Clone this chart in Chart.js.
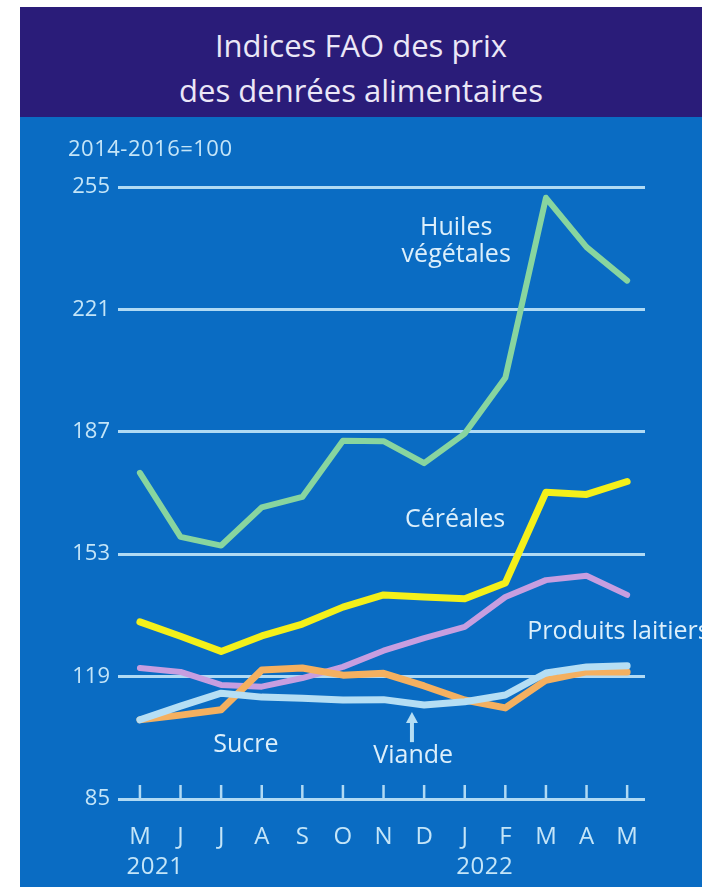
<!DOCTYPE html>
<html>
<head>
<meta charset="utf-8">
<script src="https://cdn.jsdelivr.net/npm/chart.js@4.4.1/dist/chart.umd.min.js"></script>
<style>
  html, body { margin: 0; padding: 0; background: #ffffff; }
  #wrap { position: absolute; left: 20px; top: 7px; width: 682px; }
  #head {
    height: 110px; box-sizing: border-box; padding-top: 16px;
    background: #2a1c79; color: #ebe7f7;
    font-family: "Open Sans", sans-serif; font-size: 31px; line-height: 45px;
    text-align: center;
  }
  #body { height: 770px; background: #0a6cc3; }
  canvas { display: block; }
</style>
</head>
<body>
<div id="wrap">
  <div id="head">Indices FAO des prix<br>des denrées alimentaires</div>
  <div id="body"><canvas id="chart" width="682" height="770"></canvas></div>
</div>
<script>
// monthly index values, May 2021 - May 2022
const months = ['M', 'J', 'J', 'A', 'S', 'O', 'N', 'D', 'J', 'F', 'M', 'A', 'M'];
const years = ['2021', '2022'];
const yTicks = [85, 119, 153, 187, 221, 255];

const huiles   = [175.6, 157.8, 155.4, 166.0, 168.9, 184.5, 184.4, 178.3, 186.5, 202.0, 252.0, 238.3, 229.0];
const cereales = [134.2, 130.2, 126.0, 130.3, 133.6, 138.3, 141.7, 141.1, 140.6, 145.0, 170.2, 169.6, 173.2];
const laitiers = [121.4, 120.3, 116.7, 116.2, 118.6, 121.7, 126.2, 129.7, 132.8, 141.1, 145.8, 147.0, 141.7];
const sucre    = [107.0, 108.3, 109.8, 120.8, 121.4, 119.4, 119.9, 116.4, 112.5, 110.3, 118.0, 120.3, 120.3];
const viande   = [107.0, 110.8, 114.4, 113.3, 113.0, 112.5, 112.6, 111.1, 112.0, 113.9, 120.0, 121.7, 122.0];

const gridColor = '#b0daf4';
const textColor = '#dceffb';
const font = '"Open Sans", sans-serif';

// series labels, placed in data coordinates (month index, index value)
const notes = [
  { text: 'Huiles', x: 7.79, y: 243.6, align: 'center' },
  { text: 'végétales', x: 7.79, y: 236.1, align: 'center' },
  { text: 'Céréales', x: 7.76, y: 162.5, align: 'center' },
  { text: 'Produits laitiers', x: 9.54, y: 131.4, align: 'left' },
  { text: 'Sucre', x: 2.61, y: 100.0, align: 'center' },
  { text: 'Viande', x: 6.73, y: 96.9, align: 'center' }
];

function toPoints(values) {
  return values.map((v, i) => ({ x: i, y: v }));
}

function line(data, color, width) {
  return {
    data: toPoints(data),
    borderColor: color,
    borderWidth: width,
    pointRadius: 0,
    tension: 0,
    borderJoinStyle: 'round',
    borderCapStyle: 'round'
  };
}

const extras = {
  id: 'extras',
  afterDatasetsDraw(chart) {
    const { ctx, chartArea, scales: { x, y } } = chart;
    ctx.save();

    // small ticks above the base line
    ctx.strokeStyle = gridColor;
    ctx.lineWidth = 2.5;
    months.forEach((m, i) => {
      const px = x.getPixelForValue(i);
      ctx.beginPath();
      ctx.moveTo(px, chartArea.bottom - 14);
      ctx.lineTo(px, chartArea.bottom);
      ctx.stroke();
    });

    // series labels
    ctx.fillStyle = textColor;
    ctx.font = '500 25px ' + font;
    ctx.textBaseline = 'middle';
    notes.forEach(n => {
      ctx.textAlign = n.align;
      ctx.fillText(n.text, x.getPixelForValue(n.x), y.getPixelForValue(n.y));
    });

    // arrow pointing at the Viande line
    const ax = x.getPixelForValue(6.70);
    const tip = y.getPixelForValue(109.2);
    const base = y.getPixelForValue(100.8);
    ctx.strokeStyle = '#b5def4';
    ctx.fillStyle = '#b5def4';
    ctx.lineWidth = 4;
    ctx.beginPath();
    ctx.moveTo(ax, base);
    ctx.lineTo(ax, tip + 8);
    ctx.stroke();
    ctx.beginPath();
    ctx.moveTo(ax, tip);
    ctx.lineTo(ax - 6, tip + 11);
    ctx.lineTo(ax + 6, tip + 11);
    ctx.closePath();
    ctx.fill();

    // base note and years
    ctx.fillStyle = '#c4e5f8';
    ctx.font = '500 22px ' + font;
    ctx.textAlign = 'left';
    ctx.letterSpacing = '0.5px';
    ctx.fillText('2014-2016=100', 48, 33);
    ctx.font = '500 24px ' + font;
    ctx.textAlign = 'center';
    ctx.fillText(years[0], x.getPixelForValue(0) + 15, 750);
    ctx.fillText(years[1], x.getPixelForValue(8) + 20, 750);
    ctx.restore();
  }
};

new Chart(document.getElementById('chart'), {
  type: 'line',
  data: {
    datasets: [
      line(viande, '#b5def4', 7),
      line(sucre, '#f4b060', 7),
      line(laitiers, '#c79ee0', 6),
      line(cereales, '#f4f01a', 7),
      line(huiles, '#88d59f', 6)
    ]
  },
  options: {
    responsive: false,
    animation: false,
    layout: { padding: { top: 70, right: 57, left: 0, bottom: 0 } },
    plugins: { legend: { display: false }, tooltip: { enabled: false } },
    scales: {
      x: {
        type: 'linear',
        min: -0.54,
        max: 12.44,
        afterBuildTicks: s => { s.ticks = months.map((m, i) => ({ value: i })); },
        afterFit: s => { s.height = 88; },
        grid: { display: false },
        border: { display: false },
        ticks: {
          autoSkip: false,
          maxRotation: 0,
          padding: 16,
          color: '#c4e5f8',
          font: { family: font, size: 24, weight: '500' },
          callback: (v, i) => months[i]
        }
      },
      y: {
        min: 85,
        max: 255,
        afterBuildTicks: s => { s.ticks = yTicks.map(v => ({ value: v })); },
        afterFit: s => { s.width = 98; },
        grid: { color: gridColor, lineWidth: 3, drawTicks: false },
        border: { display: false },
        ticks: {
          padding: 8,
          color: '#c4e5f8',
          font: { family: font, size: 22, weight: '500' }
        }
      }
    }
  },
  plugins: [extras]
});
</script>
</body>
</html>
